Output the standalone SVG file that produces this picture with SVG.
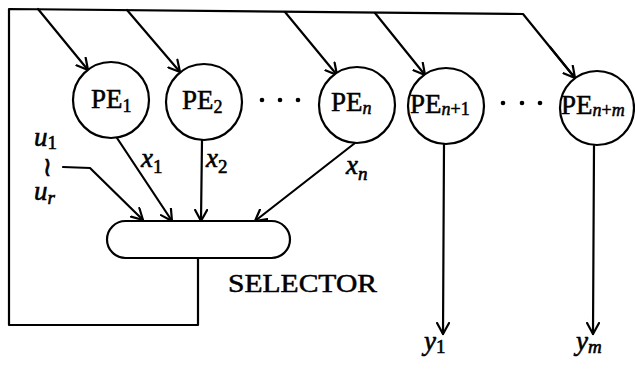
<svg xmlns="http://www.w3.org/2000/svg" width="635" height="372" viewBox="0 0 635 372">
  <style>
    .ln { fill: none; stroke: #000; stroke-width: 2.2; stroke-linecap: round; stroke-linejoin: round; }
    .arr { marker-end: url(#head); }
    .pe { fill: #fff; stroke: #000; stroke-width: 2.2; }
    .t { font-family: "Liberation Serif", "Times New Roman", serif; fill: #000; stroke: #000; stroke-width: 0.5; }
    .pet { font-size: 27px; }
    .sub { font-size: 18px; }
    .it { font-style: italic; }
    .var { font-family: "Liberation Serif", "Times New Roman", serif; font-style: italic; font-size: 27px; fill: #000; stroke: #000; stroke-width: 0.6; }
    .vsub { font-size: 19px; }
    .dot { fill: #000; }
  </style>
  <defs>
    <marker id="head" viewBox="-12 -7 14 14" markerWidth="14" markerHeight="14" refX="0" refY="0" orient="auto" markerUnits="userSpaceOnUse">
      <path d="M-11,-6 L0,0 L-11,6" fill="none" stroke="#000" stroke-width="2.2" stroke-linecap="round" stroke-linejoin="round"/>
    </marker>
  </defs>

  <!-- connectors -->
  <g id="connectors">
    <!-- feedback loop: selector output back to the top bus -->
    <polyline class="ln" points="198,258 198,325 9,325 9,9 523,14 575,78" />
    <!-- bus taps into each PE -->
    <line class="ln arr" x1="38" y1="9" x2="88" y2="70" />
    <line class="ln arr" x1="127" y1="10" x2="180" y2="72" />
    <line class="ln arr" x1="285" y1="12" x2="337" y2="75" />
    <line class="ln arr" x1="375" y1="13" x2="425" y2="75" />
    <polyline class="ln arr" points="550,47 575,78" />
    <!-- PE outputs into the selector -->
    <line class="ln arr" x1="117" y1="138" x2="172" y2="221" />
    <line class="ln arr" x1="202" y1="140" x2="201" y2="221" />
    <line class="ln arr" x1="355" y1="143" x2="255" y2="221" />
    <!-- external inputs u1..ur -->
    <polyline class="ln arr" points="63,167 90,168 143,220" />
    <!-- outputs y -->
    <line class="ln arr" x1="444" y1="144" x2="443" y2="334" />
    <line class="ln arr" x1="594" y1="146" x2="593" y2="334" />
  </g>

  <!-- processing elements -->
  <g id="pe1">
    <circle class="pe" cx="111" cy="100" r="38" />
    <text class="t pet" x="91" y="108">PE<tspan class="sub" dy="4">1</tspan></text>
  </g>
  <g id="pe2">
    <circle class="pe" cx="204" cy="102" r="38" />
    <text class="t pet" x="182" y="109">PE<tspan class="sub" dy="4">2</tspan></text>
  </g>
  <g id="dots1">
    <circle class="dot" cx="262" cy="100" r="2.3" />
    <circle class="dot" cx="280" cy="100" r="2.3" />
    <circle class="dot" cx="298" cy="100" r="2.3" />
  </g>
  <g id="pen">
    <circle class="pe" cx="357" cy="105" r="38" />
    <text class="t pet" x="331" y="111">PE<tspan class="sub it" dy="3">n</tspan></text>
  </g>
  <g id="pen1">
    <circle class="pe" cx="446" cy="106" r="38" />
    <text class="t pet" x="410" y="113">PE<tspan class="sub" dy="2"><tspan class="it">n</tspan>+1</tspan></text>
  </g>
  <g id="dots2">
    <circle class="dot" cx="503" cy="103" r="2.3" />
    <circle class="dot" cx="522" cy="103" r="2.3" />
    <circle class="dot" cx="540" cy="103" r="2.3" />
  </g>
  <g id="penm">
    <circle class="pe" cx="597" cy="108" r="37" />
    <text class="t pet" x="561" y="114">PE<tspan class="sub" dy="2"><tspan class="it">n</tspan>+<tspan class="it">m</tspan></tspan></text>
  </g>

  <!-- selector -->
  <g id="selector">
    <rect class="pe" x="107" y="221" width="183" height="37" rx="18.5" ry="18.5" />
    <text class="t" x="228" y="292" font-size="25" textLength="149" lengthAdjust="spacingAndGlyphs">SELECTOR</text>
  </g>

  <!-- signal labels -->
  <g id="labels">
    <text class="var" x="34" y="146">u<tspan class="vsub" dy="3" font-style="normal">1</tspan></text>
    <text class="t" x="0" y="0" font-size="18" font-family="DejaVu Serif, serif" text-anchor="middle" transform="translate(47,176) scale(1.3,1.5)">≀</text>
    <text class="var" x="34" y="200">u<tspan class="vsub" dy="4">r</tspan></text>
    <text class="var" x="141" y="167">x<tspan class="vsub" dy="6" font-style="normal">1</tspan></text>
    <text class="var" x="206" y="167">x<tspan class="vsub" dy="6" font-style="normal">2</tspan></text>
    <text class="var" x="346" y="174">x<tspan class="vsub" dy="6">n</tspan></text>
    <text class="var" x="424" y="350">y<tspan class="vsub" dy="3" font-style="normal">1</tspan></text>
    <text class="var" x="576" y="350">y<tspan class="vsub" dy="3">m</tspan></text>
  </g>
</svg>
